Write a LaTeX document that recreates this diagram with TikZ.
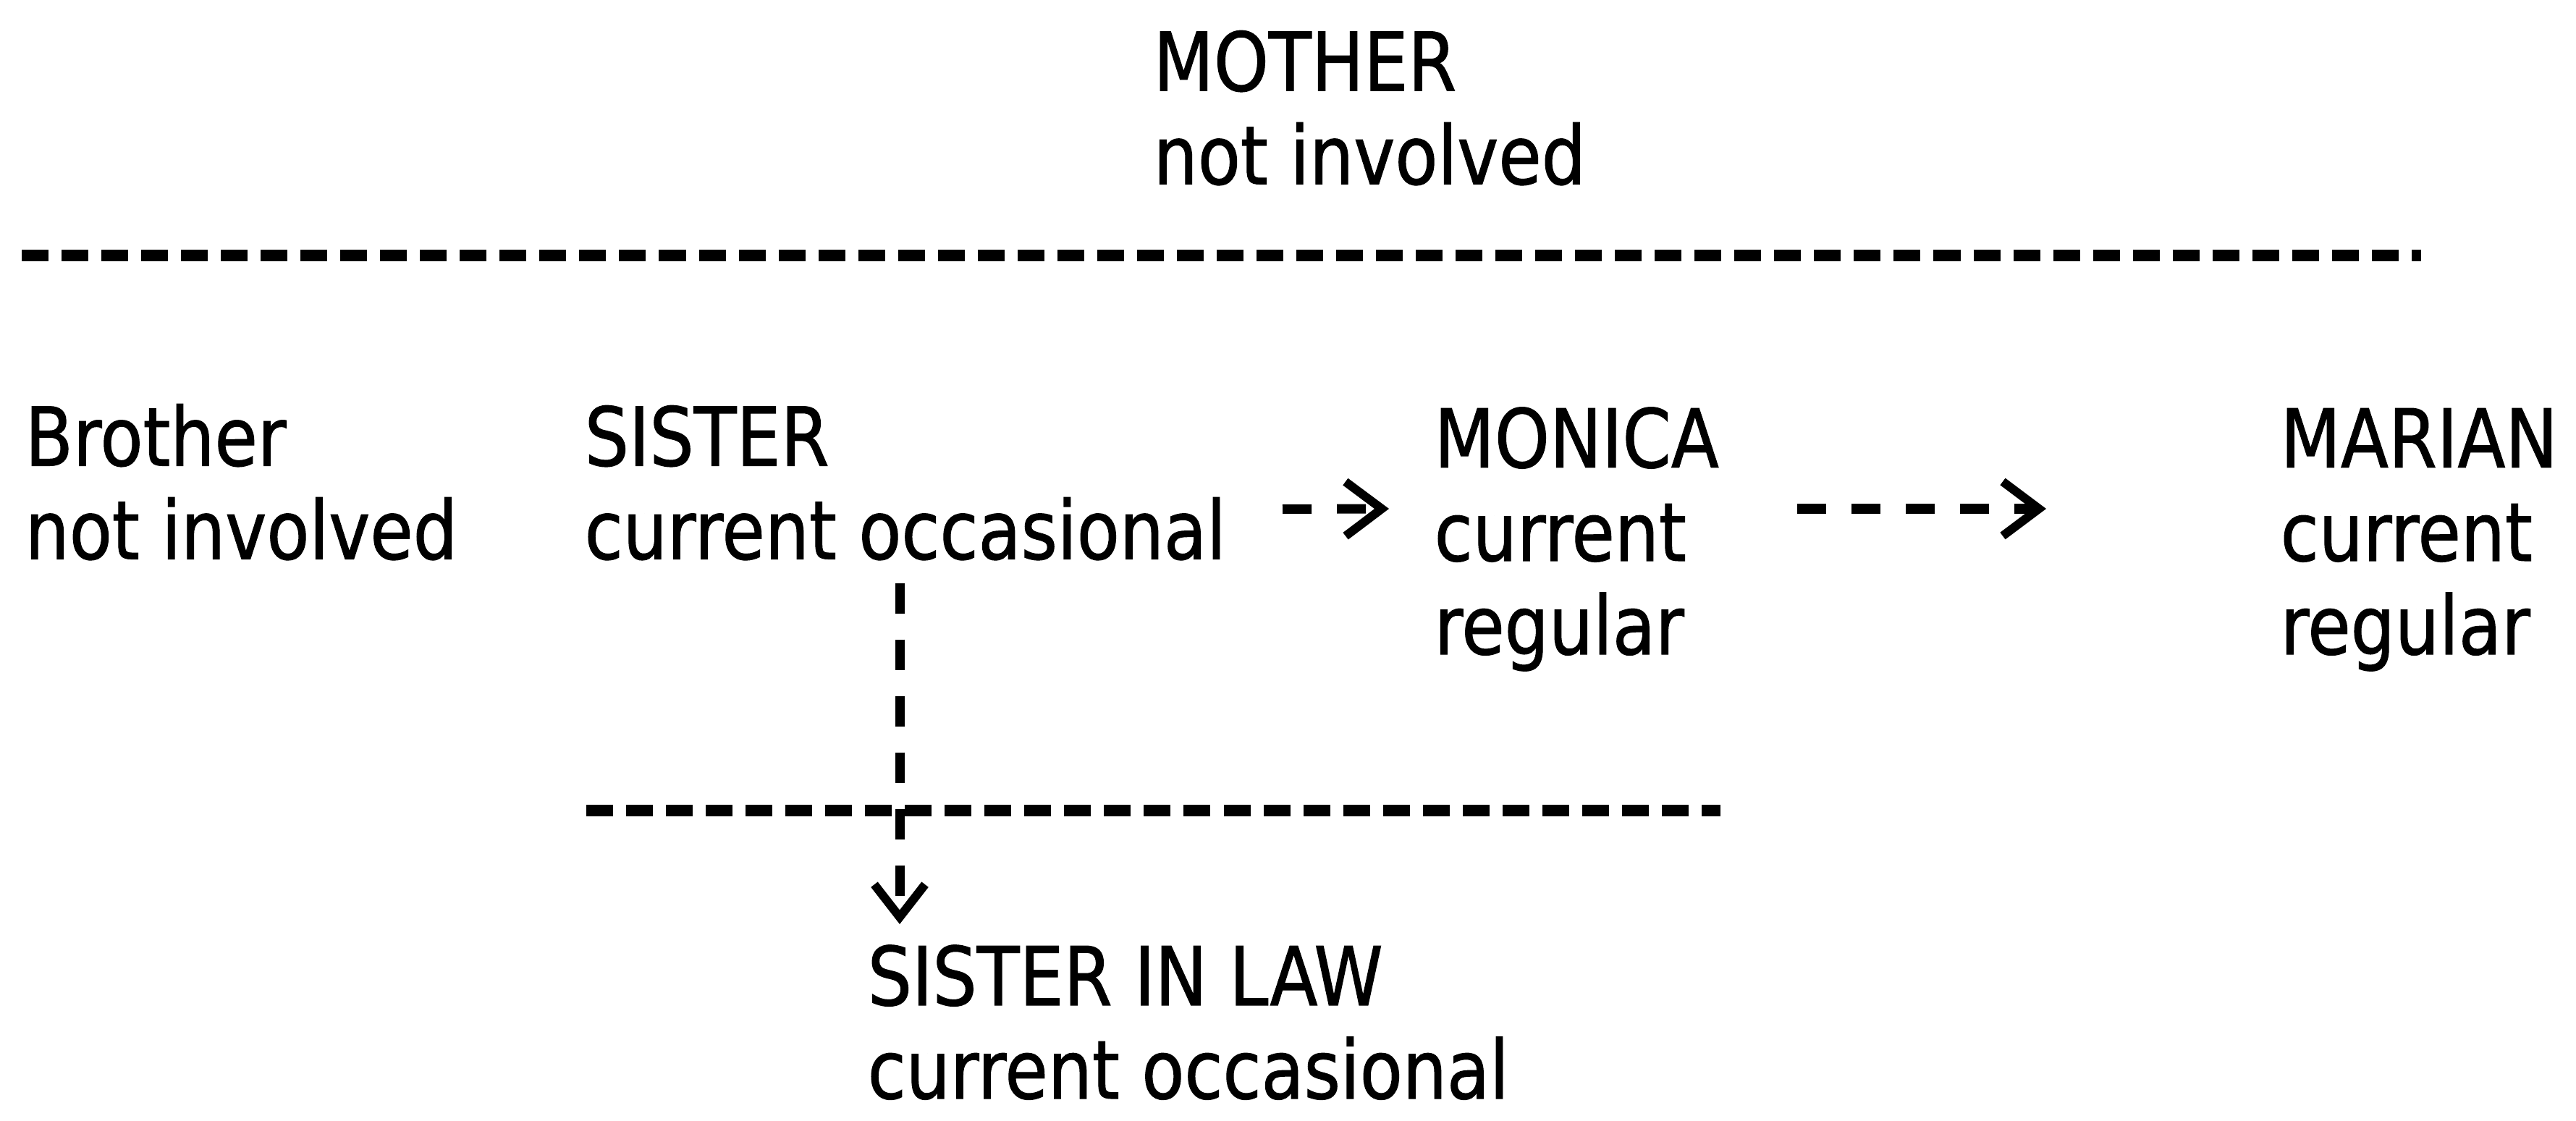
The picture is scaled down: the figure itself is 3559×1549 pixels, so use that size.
\documentclass[tikz,border=0pt]{standalone}
\usepackage{fontspec}
\setmainfont[FakeStretch=0.86, FakeBold=1]{DejaVu Sans}
\usepackage{tikz}
\usetikzlibrary{positioning, arrows.meta}

\begin{document}
\begin{tikzpicture}[
  x=0.01cm, y=-0.01cm,
  person/.style={anchor=base west, inner sep=0pt, align=left, text depth=0pt, font=\fontsize{31.9pt}{36.7pt}\selectfont},
  divider/.style={line width=0.15cm, dash pattern=on 0.37cm off 0.18cm},
  link/.style={line width=0.13cm, dash pattern=on 0.40cm off 0.35cm, -{Straight Barb[length=0.5cm, width=0.75cm, line width=0.12cm]}},
  drop/.style={line width=0.13cm, dash pattern=on 0.42cm off 0.36cm, -{Straight Barb[length=0.45cm, width=0.7cm, line width=0.12cm]}}
]
\useasboundingbox (0,0) rectangle (3559,1549);

% top generation (nodes sit on the baseline of their last line)
\node[person] (mother) at (1593,254.5) {MOTHER\\not involved};
\draw[divider] (30,353) -- (3345,353);

% siblings and daughters
\node[person] (brother) at (34,772.5) {Brother\\not involved};
\node[person] (sister) at (807,772.5) {SISTER\\current occasional};
\node[person] (monica) at (1981,904) {MONICA\\current\\regular};
\node[person] (marian) at (3150,904) {MARIAN\\current\\regular};

% in-law
\draw[divider] (810,1120) -- (2377,1120);
\node[person] (sil) at (1198,1518) {SISTER IN LAW\\current occasional};

% arrows
\draw[link] ([shift={(965,-69)}]sister.base west) -- ([shift={(-62,-201)}]monica.base west);
\draw[link] ([shift={(502,-201)}]monica.base west) -- ([shift={(-323,-201)}]marian.base west);
\draw[drop] ([shift={(436,33)}]sister.base west) -- ([shift={(45,-241)}]sil.base west);
\end{tikzpicture}
\end{document}
